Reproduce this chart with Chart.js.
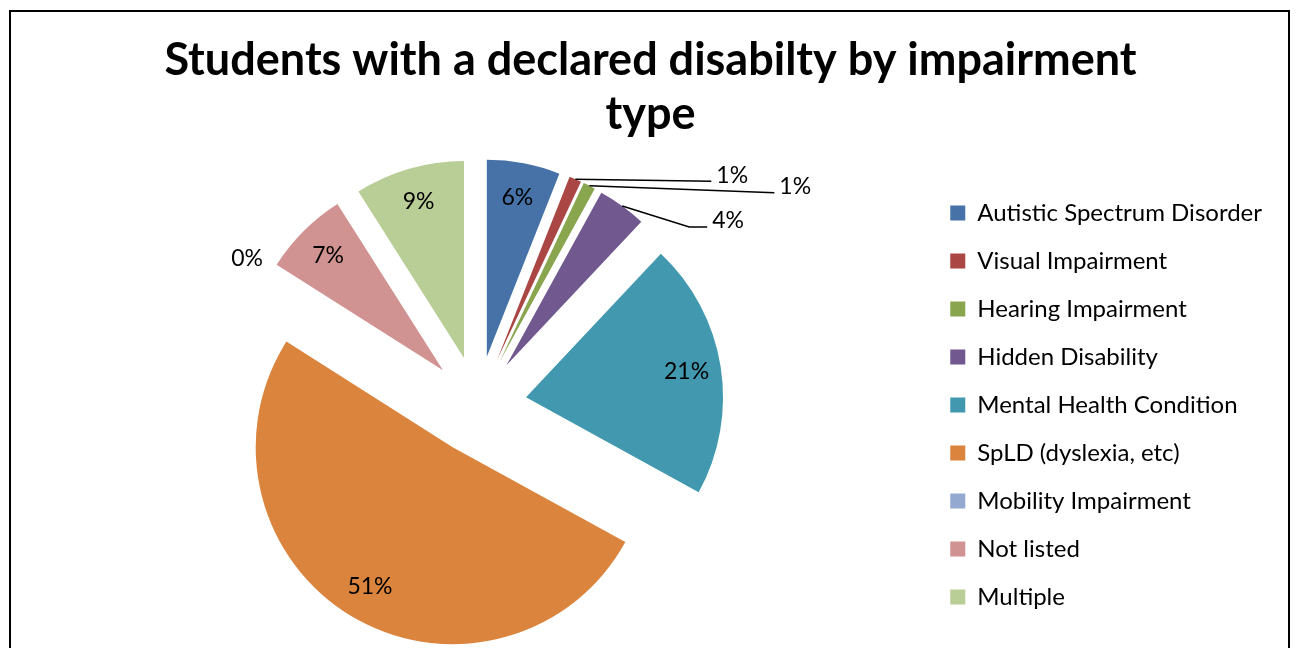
<!DOCTYPE html>
<html>
<head>
<meta charset="utf-8">
<title>Students with a declared disabilty by impairment type</title>
<script src="https://cdn.jsdelivr.net/npm/chart.js@4/dist/chart.umd.min.js"></script>
<style>
  html, body { margin: 0; padding: 0; background: #fff; }
  #wrap { position: relative; width: 1296px; height: 648px; overflow: hidden; }
  #frame { position: absolute; left: 9px; top: 10px; width: 1281px; height: 720px; border: 2px solid #000; box-sizing: border-box; }
  #chartBox { position: absolute; left: 0; top: 0; width: 1296px; height: 680px; }
</style>
</head>
<body>
<div id="wrap">
  <div id="frame"></div>
  <div id="chartBox"><canvas id="pie"></canvas></div>
</div>
<script>
// impairment types, share of students (%) and slice colours
const categories = [
  'Autistic Spectrum Disorder',
  'Visual Impairment',
  'Hearing Impairment',
  'Hidden Disability',
  'Mental Health Condition',
  'SpLD (dyslexia, etc)',
  'Mobility Impairment',
  'Not listed',
  'Multiple'
];
const shares = [6, 1, 1, 4, 21, 51, 0, 7, 9];
const sliceColors = ['#4672A8', '#AA4643', '#89A54E', '#71588F', '#4198AF', '#DB843D', '#93A9CF', '#D19392', '#B9CD96'];

const titleLines = ['Students with a declared disabilty by impairment', 'type'];

// how far every slice is pulled out from the centre
const EXPLODE = 49;

// small slices get their label outside with a leader line
const callouts = {
  1: { dx: 136, dy: 2, tail: 0 },
  2: { dx: 185, dy: 7, tail: 0 },
  3: { dx: 67, dy: 21, tail: 18 }
};

// push each arc out along its middle angle before drawing
const ArcElement = Chart.elements ? Chart.elements.ArcElement : Chart.ArcElement;
const baseArcDraw = ArcElement.prototype.draw;
ArcElement.prototype.draw = function (ctx) {
  const mid = (this.startAngle + this.endAngle) / 2;
  ctx.save();
  ctx.translate(Math.cos(mid) * EXPLODE, Math.sin(mid) * EXPLODE);
  baseArcDraw.call(this, ctx);
  ctx.restore();
};

const sliceLabels = {
  id: 'sliceLabels',
  afterDatasetsDraw(chart) {
    const ctx = chart.ctx;
    const arcs = chart.getDatasetMeta(0).data;
    ctx.save();
    ctx.font = '23px Lato';
    ctx.fillStyle = '#000';
    ctx.strokeStyle = '#000';
    ctx.lineWidth = 1.5;
    ctx.textBaseline = 'middle';
    arcs.forEach((arc, i) => {
      const mid = (arc.startAngle + arc.endAngle) / 2;
      const cos = Math.cos(mid), sin = Math.sin(mid);
      const ax = arc.x + cos * EXPLODE;
      const ay = arc.y + sin * EXPLODE;
      const r = arc.outerRadius;
      const text = shares[i] + '%';
      const c = callouts[i];
      if (c) {
        const ex = ax + cos * r, ey = ay + sin * r;
        const lx = ex + c.dx, ly = ey + c.dy;
        ctx.beginPath();
        ctx.moveTo(ex, ey);
        ctx.lineTo(lx, ly);
        ctx.lineTo(lx + c.tail, ly);
        ctx.stroke();
        ctx.textAlign = 'left';
        ctx.fillText(text, lx + c.tail + 5, ly - 6);
      } else {
        // zero slices sit just outside the rim, the rest inside near the edge
        const dist = shares[i] === 0 ? r + 27 : r * 0.825;
        ctx.textAlign = 'center';
        ctx.fillText(text, ax + cos * dist, ay + sin * dist);
      }
    });
    ctx.restore();
  }
};

new Chart(document.getElementById('pie'), {
  type: 'pie',
  data: {
    labels: categories,
    datasets: [{
      data: shares,
      backgroundColor: sliceColors,
      borderWidth: 0
    }]
  },
  options: {
    responsive: true,
    maintainAspectRatio: false,
    animation: false,
    radius: 197,
    layout: { padding: { left: 29, right: 24, top: 0, bottom: 21 } },
    plugins: {
      title: {
        display: true,
        text: titleLines,
        color: '#000',
        font: { family: 'Lato', size: 45, weight: 'bold', lineHeight: '54px' },
        padding: { top: 33, bottom: 10 }
      },
      legend: {
        position: 'right',
        fullSize: false,
        labels: {
          color: '#000',
          font: { family: 'Lato', size: 24 },
          boxWidth: 15,
          boxHeight: 15,
          padding: 24
        }
      },
      tooltip: { enabled: false }
    }
  },
  plugins: [sliceLabels]
});
</script>
</body>
</html>
